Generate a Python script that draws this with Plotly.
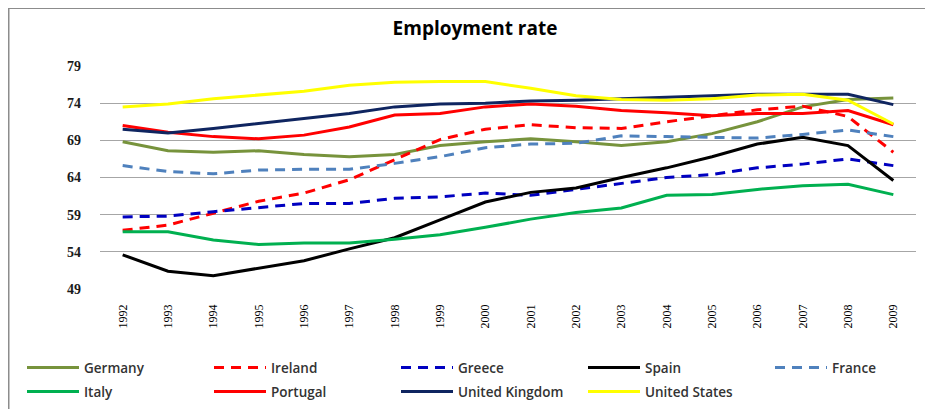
import plotly.graph_objects as go

years = [str(y) for y in range(1992, 2010)]

germany  = [68.8, 67.6, 67.4, 67.6, 67.1, 66.8, 67.1, 68.3, 68.8, 69.2, 68.8, 68.3, 68.8, 69.9, 71.5, 73.5, 74.5, 74.7]
ireland  = [56.9, 57.6, 59.2, 60.8, 61.9, 63.7, 66.4, 69.1, 70.5, 71.1, 70.7, 70.6, 71.5, 72.3, 73.1, 73.6, 72.2, 67.4]
greece   = [58.7, 58.8, 59.4, 59.9, 60.5, 60.5, 61.2, 61.4, 61.9, 61.6, 62.4, 63.3, 64.0, 64.4, 65.3, 65.8, 66.5, 65.6]
spain    = [53.6, 51.4, 50.8, 51.8, 52.8, 54.4, 55.9, 58.3, 60.7, 62.0, 62.6, 64.0, 65.3, 66.8, 68.5, 69.4, 68.3, 63.6]
france   = [65.6, 64.8, 64.5, 65.0, 65.1, 65.1, 65.9, 66.8, 68.0, 68.5, 68.6, 69.6, 69.5, 69.4, 69.3, 69.8, 70.4, 69.5]
italy    = [56.7, 56.7, 55.6, 55.0, 55.2, 55.2, 55.7, 56.3, 57.3, 58.4, 59.3, 59.9, 61.6, 61.7, 62.4, 62.9, 63.1, 61.7]
portugal = [71.0, 70.1, 69.5, 69.2, 69.7, 70.8, 72.4, 72.6, 73.5, 73.9, 73.6, 73.0, 72.7, 72.3, 72.6, 72.6, 73.0, 71.1]
uk       = [70.5, 70.0, 70.6, 71.3, 71.9, 72.6, 73.5, 73.9, 74.0, 74.3, 74.4, 74.6, 74.9, 75.0, 75.2, 75.2, 75.2, 73.8]
us       = [73.5, 73.9, 74.6, 75.1, 75.6, 76.4, 76.8, 76.9, 76.9, 76.0, 75.0, 74.5, 74.4, 74.6, 75.1, 75.2, 74.4, 71.2]

y_ticks = [49, 54, 59, 64, 69, 74, 79]

series = [
    ("Germany", germany, "#77933C", "solid", "legend"),
    ("Ireland", ireland, "#FF0000", "10px,7px", "legend"),
    ("Greece", greece, "#0000C0", "10px,7px", "legend"),
    ("Spain", spain, "#000000", "solid", "legend3"),
    ("France", france, "#4F81BD", "10px,7px", "legend3"),
    ("Italy", italy, "#00B050", "solid", "legend2"),
    ("Portugal", portugal, "#FF0000", "solid", "legend2"),
    ("United Kingdom", uk, "#0F2560", "solid", "legend2"),
    ("United States", us, "#FFFF00", "solid", "legend4"),
]

fig = go.Figure()
for name, vals, color, dash, leg in series:
    fig.add_trace(go.Scatter(
        x=years, y=vals, name=name, mode="lines",
        line=dict(color=color, width=3, dash=dash),
        legend=leg,
    ))

# page body adds an 8px offset; figure is sized to fit the remaining window
OFF = 8
W, H = 933 - OFF, 409 - OFF
L, T = 100 - OFF, 66 - OFF
R = W - (916 - OFF)
B = H - (289 - OFF)

legfont = dict(family="Open Sans", size=13.5, color="#333333", weight=600)

def legend_cfg(x_px, y_px):
    return dict(orientation="h", xref="container", yref="container",
                x=x_px / W, xanchor="left", y=1 - y_px / H, yanchor="middle",
                entrywidthmode="pixels", entrywidth=120, itemwidth=52,
                font=legfont, bgcolor="rgba(0,0,0,0)", borderwidth=0)

row1 = 367.7 - OFF
row2 = 391.7 - OFF
col0 = 22 - OFF
col3 = 22 + 3 * 187 - OFF

fig.update_layout(
    width=W, height=H,
    margin=dict(l=L, r=R, t=T, b=B, pad=0, autoexpand=False),
    paper_bgcolor="white", plot_bgcolor="white",
    title=dict(text="<b>Employment rate</b>", x=(475 - OFF) / W, xanchor="center",
               y=1 - (28 - OFF) / H, yanchor="middle",
               font=dict(family="Open Sans", size=19, color="#000000")),
    xaxis=dict(type="category", range=[-0.5, 17.5], showgrid=False, zeroline=False,
               showline=False, ticks="", tickangle=-90,
               tickfont=dict(family="Liberation Serif", size=12, color="#000000"),
               ticklabelstandoff=12),
    yaxis=dict(range=[49, 79], tickvals=y_ticks, ticktext=[str(v) for v in y_ticks],
               showgrid=True, gridcolor="#A6A6A6", gridwidth=1, zeroline=False,
               showline=False, ticks="",
               tickfont=dict(family="Liberation Serif", size=14, color="#1a1a1a", weight="bold"),
               ticklabelstandoff=18),
    legend=legend_cfg(col0, row1),
    legend2=legend_cfg(col0, row2),
    legend3=legend_cfg(col3, row1),
    legend4=legend_cfg(col3, row2),
    showlegend=True,
)

# outer frame of the chart (paper coordinates converted from pixels)
pw = W - L - R
ph = H - T - B
def px2x(px):
    return (px - L) / pw
def py2y(py):
    return (H - B - py) / ph

fig.add_shape(type="rect", xref="paper", yref="paper",
              x0=px2x(0.5), x1=px2x(W + 10), y0=py2y(H + 10), y1=py2y(0),
              line=dict(color="#8C8C8C", width=2), fillcolor="rgba(0,0,0,0)",
              layer="above")

fig.write_html("out.html")
